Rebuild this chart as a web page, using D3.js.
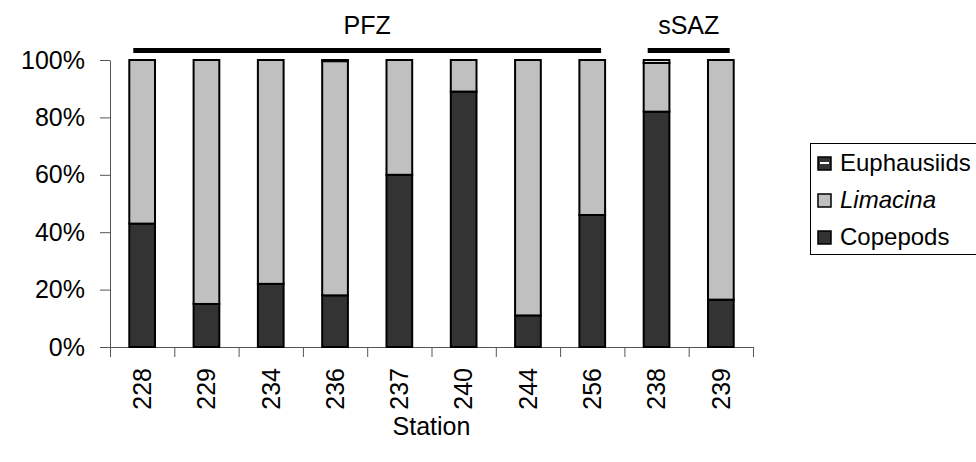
<!DOCTYPE html>
<html>
<head>
<meta charset="utf-8">
<script src="https://cdn.jsdelivr.net/npm/d3@7/dist/d3.min.js"></script>
<style>
  html, body { margin: 0; padding: 0; background: #fff; }
  svg { display: block; font-family: "Liberation Sans", Arial, sans-serif; }
</style>
</head>
<body>
<svg id="chart" width="976" height="462"></svg>
<script>
// Stations (in plotted order) and diet composition (% of each category)
const stations    = ["228", "229", "234", "236", "237", "240", "244", "256", "238", "239"];
const copepods    = [43, 15, 22, 18, 60, 89, 11, 46, 82, 16.5];
const limacina    = [57, 85, 78, 81.6, 40, 11, 89, 54, 17, 83.5];
const euphausiids = [0, 0, 0, 0.4, 0, 0, 0, 0, 1, 0];
const yTicks      = [0, 20, 40, 60, 80, 100];

// Frontal zones spanning groups of stations
const zoneNames = ["PFZ", "sSAZ"];
const zoneFirst = ["228", "238"];
const zoneLast  = ["256", "239"];

const svg = d3.select("#chart");
const FONT = 25;

const x = d3.scaleBand().domain(stations).range([110, 753]).paddingInner(0.6).paddingOuter(0.3);
const xEdge = d3.scaleLinear().domain([0, stations.length]).range([110, 753]);
const y = d3.scaleLinear().domain([0, 100]).range([347, 60]);

// Stack: copepods at the bottom, Limacina, then euphausiids on top
const keys = ["Copepods", "Limacina", "Euphausiids"];
const rows = stations.map((s, i) => ({
  station: s, Copepods: copepods[i], Limacina: limacina[i], Euphausiids: euphausiids[i]
}));
const colors = { Copepods: "#333333", Limacina: "#c0c0c0", Euphausiids: "#ffffff" };
const series = d3.stack().keys(keys)(rows);

// Axes
const yAxis = svg.append("g")
  .attr("transform", "translate(110,0)")
  .call(d3.axisLeft(y).tickValues(yTicks).tickFormat(d => d + "%").tickSize(10).tickSizeOuter(0).tickPadding(15));
yAxis.select(".domain").attr("stroke", "#555");
yAxis.selectAll(".tick line").attr("stroke", "#555");
yAxis.selectAll("text").attr("font-size", FONT).attr("font-family", "Liberation Sans, Arial, sans-serif").attr("fill", "#000");

const xAxis = svg.append("g")
  .attr("transform", "translate(0,347)")
  .call(d3.axisBottom(xEdge).tickValues(d3.range(stations.length + 1)).tickFormat("").tickSize(10).tickSizeOuter(0));
xAxis.select(".domain").attr("stroke", "#555");
xAxis.selectAll(".tick line").attr("stroke", "#555");

// Bars
svg.append("g").selectAll("g").data(series).join("g")
  .attr("fill", d => colors[d.key])
  .selectAll("rect").data(d => d).join("rect")
  .attr("x", d => x(d.data.station))
  .attr("width", x.bandwidth())
  .attr("y", d => y(d[1]))
  .attr("height", d => y(d[0]) - y(d[1]))
  .attr("stroke", "#000")
  .attr("stroke-width", 2);

// Station labels (rotated)
svg.append("g").selectAll("text").data(stations).join("text")
  .attr("transform", d => `translate(${x(d) + x.bandwidth() / 2},368) rotate(-90)`)
  .attr("text-anchor", "end")
  .attr("dy", "0.35em")
  .attr("font-size", FONT)
  .text(d => d);

svg.append("text")
  .attr("x", (110 + 753) / 2).attr("y", 435)
  .attr("text-anchor", "middle").attr("font-size", FONT)
  .text("Station");

// Zone bars and labels
zoneNames.forEach((name, i) => {
  const x0 = x(zoneFirst[i]) + 4;
  const x1 = x(zoneLast[i]) + x.bandwidth() - 4;
  svg.append("line")
    .attr("x1", x0).attr("x2", x1).attr("y1", 50.5).attr("y2", 50.5)
    .attr("stroke", "#000").attr("stroke-width", 5);
  svg.append("text")
    .attr("x", (x0 + x1) / 2).attr("y", 34)
    .attr("text-anchor", "middle").attr("font-size", FONT)
    .text(name);
});

// Legend
const legend = svg.append("g").attr("transform", "translate(810,143)");
legend.append("rect").attr("x", 0.5).attr("y", 0.5).attr("width", 200).attr("height", 111)
  .attr("fill", "#fff").attr("stroke", "#000").attr("stroke-width", 1);
const legendKeys = ["Euphausiids", "Limacina", "Copepods"];
legendKeys.forEach((k, i) => {
  const cy = 20 + i * 37;
  const g = legend.append("g").attr("transform", `translate(0,${cy})`);
  if (k === "Euphausiids") {
    g.append("rect").attr("x", 8).attr("y", -6).attr("width", 13).attr("height", 13)
      .attr("fill", "#333").attr("stroke", "#000").attr("stroke-width", 1.5);
    g.append("rect").attr("x", 10).attr("y", -1).attr("width", 9).attr("height", 2).attr("fill", "#fff");
  } else {
    g.append("rect").attr("x", 8).attr("y", -6).attr("width", 13).attr("height", 13)
      .attr("fill", colors[k]).attr("stroke", "#000").attr("stroke-width", 1.5);
  }
  g.append("text").attr("x", 30).attr("y", 0).attr("dy", "0.35em")
    .attr("font-size", FONT - 1)
    .attr("font-style", k === "Limacina" ? "italic" : "normal")
    .text(k);
});
</script>
</body>
</html>
